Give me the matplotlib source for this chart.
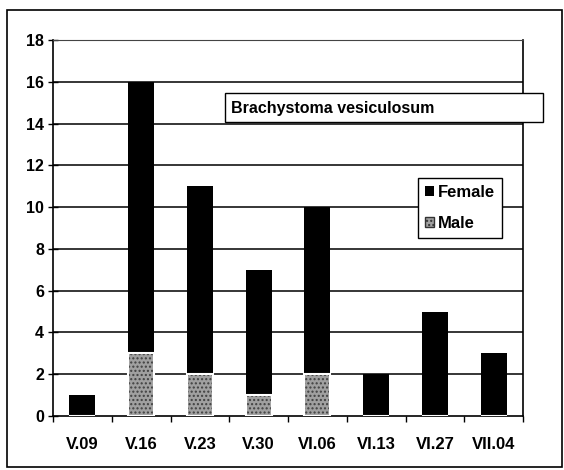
import numpy as np
import matplotlib.pyplot as plt
from matplotlib.patches import Rectangle

plt.rcParams['font.family'] = ['Liberation Sans', 'DejaVu Sans']

dates = ["V.09", "V.16", "V.23", "V.30", "VI.06", "VI.13", "VI.27", "VII.04"]
male = [0, 3, 2, 1, 2, 0, 0, 0]
female = [1, 13, 9, 6, 8, 2, 5, 3]
species = "Brachystoma vesiculosum"

fig = plt.figure(figsize=(5.64, 4.70), dpi=100)
ax = fig.add_axes([53 / 564, 1 - 416 / 470, 470 / 564, 376 / 470])

x = np.arange(len(dates))
w = 0.44
ax.bar(x, male, w, color="#a0a0a0", hatch="....", edgecolor="#404040", linewidth=0, zorder=3)
ax.bar(x, male, w, fill=False, edgecolor="white", linewidth=1.5, zorder=4)
ax.bar(x, female, w, bottom=male, color="black", linewidth=0, zorder=3)

ax.set_xlim(-0.5, len(dates) - 0.5)
ax.set_ylim(0, 18)
ax.set_yticks(range(0, 19, 2))
ax.set_xticks(x)
ax.set_xticklabels(dates, fontsize=12, fontweight="bold")
ax.tick_params(axis="x", length=0, pad=15)
ax.set_xticks(np.arange(-0.5, len(dates), 1), minor=True)
ax.tick_params(axis="x", which="minor", length=4, width=1, direction="out")
ax.tick_params(axis="y", length=7, width=1, direction="inout", labelsize=11.5, pad=3)
for lab in ax.get_yticklabels():
    lab.set_fontweight("bold")

for yv in range(2, 18, 2):
    ax.axhline(yv, color="black", linewidth=1.1, zorder=1)

for s in ["left", "bottom", "right"]:
    ax.spines[s].set_linewidth(1.2)
ax.spines["top"].set_linestyle((0, (1, 1)))
ax.spines["top"].set_color("#444444")

# legend
fem_h = Rectangle((0, 0), 1, 1, facecolor="black")
mal_h = Rectangle((0, 0), 1, 1, facecolor="#a0a0a0", hatch="....", edgecolor="#333333", linewidth=1)
leg = ax.legend([fem_h, mal_h], ["Female", "Male"], loc="upper left",
                bbox_to_anchor=((418 - 53) / 470, (416 - 178) / 376),
                prop={"size": 12, "weight": "bold"}, frameon=True, fancybox=False,
                framealpha=1, handlelength=0.55, handleheight=0.55, handletextpad=0.25,
                borderpad=0.4, labelspacing=1.0, borderaxespad=0)
leg.get_frame().set_edgecolor("black")
leg.get_frame().set_linewidth(1.0)
leg.set_zorder(6)

# species box
fig.patches.append(Rectangle((225 / 564, 1 - 122 / 470), 318 / 564, 29 / 470,
                             transform=fig.transFigure, facecolor="white",
                             edgecolor="black", linewidth=1.0, zorder=5))
fig.text(231 / 564, 1 - 108 / 470, species, fontsize=11.5, fontweight="bold",
         va="center", ha="left", zorder=6)

# outer frame
fig.patches.append(Rectangle((7 / 564, 1 - 467 / 470), 555 / 564, 457 / 470,
                             transform=fig.transFigure, fill=False,
                             edgecolor="black", linewidth=1.2, zorder=0))

fig.savefig("out.png", dpi=100)
